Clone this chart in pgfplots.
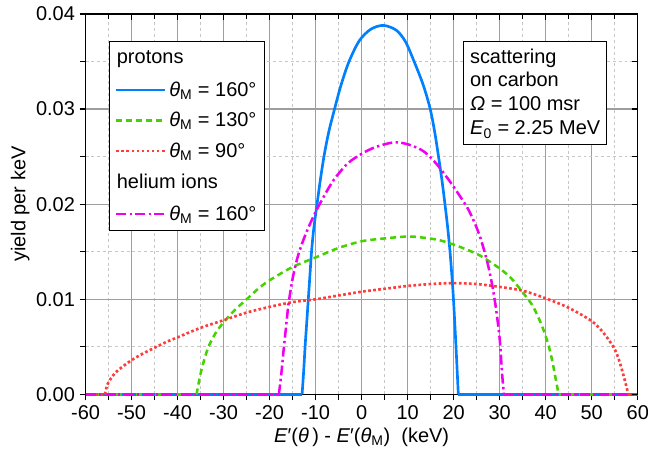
\documentclass[border=0pt]{standalone}
\usepackage{fontspec}
\setmainfont{Liberation Sans}
\usepackage{pgfplots}
\pgfplotsset{compat=1.18}

\definecolor{cBlue}{RGB}{0,128,255}
\definecolor{cGreen}{RGB}{70,210,0}
\definecolor{cRed}{RGB}{255,60,60}
\definecolor{cMag}{RGB}{240,0,240}

\pgfplotsset{
  frame/.style={
    scale only axis, width=414.75pt, height=285.75pt,
    xmin=-60, xmax=60, ymin=0, ymax=0.04,
    xtick={-60,-50,...,60}, minor x tick num=1,
    ytick={0,0.01,0.02,0.03,0.04}, minor y tick num=1,
    scaled y ticks=false,
    axis line style={black, line width=1.1pt},
    tick style={black, line width=0.9pt},
    major tick length=4.5pt, minor tick length=4pt,
  },
  sBlue/.style={cBlue, line width=2pt},
  sGreen/.style={cGreen, line width=1.9pt, dash pattern=on 4.5pt off 3pt},
  sRed/.style={cRed, line width=2pt, dash pattern=on 2pt off 1.8pt},
  sMag/.style={cMag, line width=1.9pt, dash pattern=on 7.5pt off 2.5pt on 1.8pt off 2.5pt},
}

\begin{document}
\begin{tikzpicture}[font=\fontsize{15}{18}\selectfont]
\begin{axis}[
  frame,
  axis x line*=bottom, axis y line*=left,
  tick align=outside,
  /pgf/number format/assume math mode=true,
  yticklabel style={/pgf/number format/fixed, /pgf/number format/fixed zerofill,
    /pgf/number format/precision=2},
  grid=both,
  major grid style={solid, color=black!38, line width=1pt},
  minor grid style={color=black!22, line width=0.7pt, dash pattern=on 2.2pt off 2.2pt},
  xlabel={\textit{E}′(\textit{θ}\,) - \textit{E}′(\textit{θ}\textsubscript{M})\ \ (keV)},
  ylabel={yield per keV},
  ylabel style={yshift=-2pt},
  clip=false,
  legend cell align=left,
  legend image code/.code={\draw[#1] (0pt,0pt) -- (36.75pt,0pt);},
  legend style={at={(rel axis cs:0.0427,0.930)}, anchor=north west,
    draw=black, line width=0.8pt, fill=white,
    inner xsep=4pt, inner ysep=4pt, row sep=6.5pt,
    font=\fontsize{15}{18}\selectfont},
]
% zero baselines outside each curve
\addplot[sBlue, forget plot] coordinates {(-60,0) (-12.95,0)};
\addplot[sBlue, forget plot] coordinates {(21.0,0) (60,0)};
\addplot[sGreen, forget plot] coordinates {(-60,0) (-35.9,0)};
\addplot[sGreen, forget plot] coordinates {(42.8,0) (60,0)};
\addplot[sRed, forget plot] coordinates {(-60,0) (-55.8,0)};
\addplot[sRed, forget plot] coordinates {(57.9,0) (60,0)};
\addplot[sMag, forget plot] coordinates {(-60,0) (-18,0)};
\addplot[sMag, forget plot] coordinates {(30.9,0) (60,0)};

\addlegendimage{legend image code/.code={\node[overlay,anchor=west,inner sep=0pt] at (0pt,0pt) {protons};}}
\addlegendentry{\strut}

\addplot[sBlue, smooth, tension=0.5] coordinates {
(-12.95,0) (-12.6,0.0025) (-12.3,0.005) (-11.95,0.0075) (-11.6,0.010)
(-11.25,0.0125) (-10.9,0.015) (-10.4,0.0175) (-9.7,0.020) (-9.0,0.0225)
(-8.2,0.025) (-7.2,0.0275) (-5.9,0.030) (-4.5,0.0325) (-2.75,0.035)
(-0.5,0.0372) (2,0.0384) (4.7,0.0388) (7.5,0.0383) (9.5,0.0371)
(11.4,0.035) (13.4,0.0325) (14.9,0.030) (15.9,0.0275) (16.7,0.025) (17.45,0.0225)
(18.1,0.020) (18.7,0.0175) (19.2,0.015) (19.6,0.0125) (19.95,0.010)
(20.5,0.005) (21.0,0)};
\addlegendentry{\textit{θ}\textsubscript{M} = 160°}

\addplot[sGreen, smooth, tension=0.5] coordinates {
(-35.9,0) (-35.5,0.001) (-35.1,0.002) (-34.3,0.0035) (-33.3,0.005)
(-31.8,0.0064) (-30,0.0076) (-27.5,0.0089) (-25,0.010) (-22.5,0.0111) (-20,0.0120)
(-15,0.0134) (-10,0.0144) (-5,0.0154) (0,0.0161) (5,0.0164) (10,0.0166) (13,0.0165)
(17,0.0162) (21.4,0.0155) (25.7,0.0146) (30.1,0.0132) (32.5,0.0122) (34.4,0.0111)
(36,0.0101) (37.3,0.0092) (39.1,0.0073) (40.4,0.0055) (41.3,0.0038) (42.1,0.0018)
(42.8,0)};
\addlegendentry{\textit{θ}\textsubscript{M} = 130°}

\addplot[sRed, smooth, tension=0.5] coordinates {
(-55.8,0) (-55.3,0.0010) (-54.6,0.0016) (-53.5,0.0023) (-52,0.0029)
(-50,0.0036) (-47.5,0.0043) (-45,0.0049) (-42.5,0.0055) (-40,0.0060) (-35,0.0070)
(-30,0.0078) (-25,0.0086) (-20,0.0092) (-15,0.0097) (-10,0.0100) (-5,0.0104)
(0,0.0108) (5,0.0111) (10,0.0114) (15,0.0116) (20,0.0117) (25,0.0116) (30,0.0113)
(35,0.0109) (40,0.0101) (45,0.0091) (50,0.0077) (52.5,0.0065) (54.7,0.005)
(55.8,0.0038) (56.9,0.002) (57.8,0.0003) (57.9,0)};
\addlegendentry{\textit{θ}\textsubscript{M} = 90°}

\addlegendimage{legend image code/.code={\node[overlay,anchor=west,inner sep=0pt] at (0pt,0pt) {helium ions};}}
\addlegendentry{\strut}

\addplot[sMag, smooth, tension=0.5] coordinates {
(-18,0) (-17.5,0.002) (-17,0.0045) (-16.5,0.0068) (-15.9,0.0095)
(-15,0.0122) (-14,0.0143) (-13,0.0158) (-11.7,0.0174) (-10,0.0192) (-8,0.0210)
(-6,0.0226) (-3,0.0243) (0,0.0253) (3,0.0260) (7,0.0265) (10,0.0263)
(13,0.0257) (15,0.0249) (17,0.0238) (19,0.0225) (21,0.0211) (23,0.0196)
(24.5,0.0181) (25.7,0.0166) (26.7,0.0150) (27.6,0.0133) (28.4,0.0114) (29.2,0.009)
(30,0.0058) (30.5,0.0023) (30.9,0)};
\addlegendentry{\textit{θ}\textsubscript{M} = 160°}

\node[draw=black, line width=0.8pt, fill=white, anchor=north east, align=left,
  inner xsep=5pt, inner ysep=5pt, font=\fontsize{15}{18}\selectfont]
  at (rel axis cs:0.945,0.928)
  {scattering\\on carbon\\\textit{Ω} = 100 msr\\\textit{E}\textsubscript{0} = 2.25 MeV};

\coordinate (bl) at (rel axis cs:0,0);
\coordinate (tr) at (rel axis cs:1,1);
\end{axis}

\begin{axis}[
  frame,
  axis x line*=top, axis y line*=right,
  tick align=inside,
  xticklabels={}, yticklabels={},
]
\end{axis}

\pgfresetboundingbox
\path[use as bounding box] ([shift={(-64.3pt,-47.25pt)}]bl) rectangle ([shift={(7.7pt,10.5pt)}]tr);
\end{tikzpicture}
\end{document}
